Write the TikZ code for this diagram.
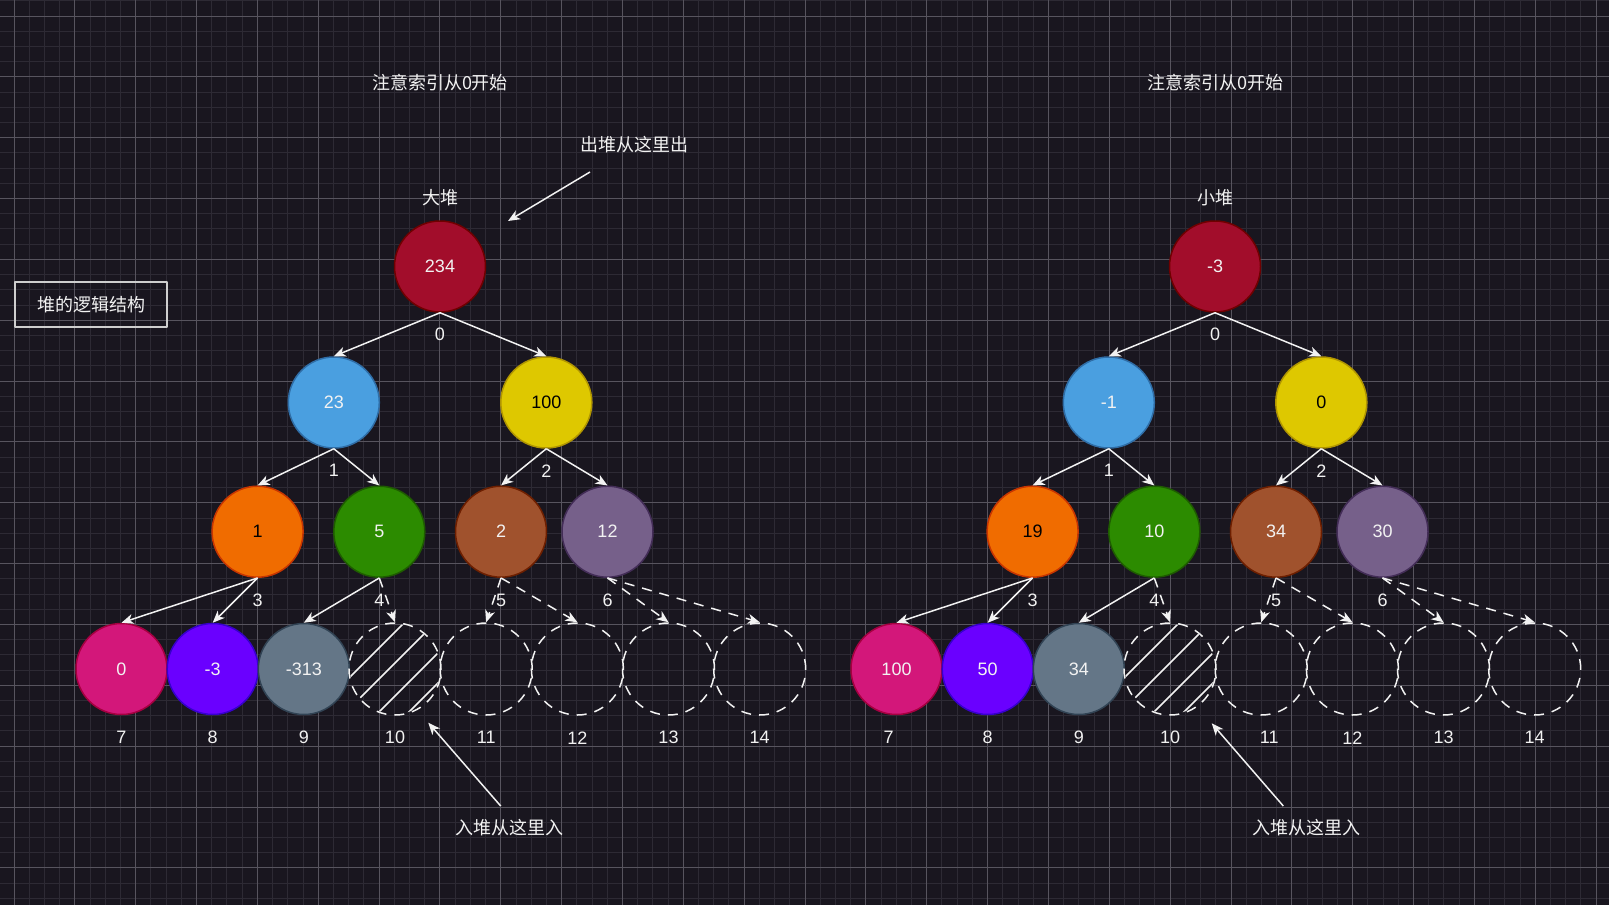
\documentclass[tikz,border=0pt]{standalone}
\usepackage{fontspec}
\setmainfont{Liberation Sans}
\newfontfamily\cjk{Noto Sans CJK SC}
\usetikzlibrary{arrows.meta}

\definecolor{bgdark}{HTML}{19161F}
\definecolor{gridmin}{HTML}{2D2A34}
\definecolor{gridmaj}{HTML}{57545E}
\definecolor{txt}{HTML}{F2F2F2}
\definecolor{crimsonF}{HTML}{A20D2B}\definecolor{crimsonD}{HTML}{6F0000}
\definecolor{blueF}{HTML}{4A9FE0}\definecolor{blueD}{HTML}{2F6DA6}
\definecolor{yellowF}{HTML}{DEC800}\definecolor{yellowD}{HTML}{B09500}
\definecolor{orangeF}{HTML}{F06C00}\definecolor{orangeD}{HTML}{C73500}
\definecolor{greenF}{HTML}{2C8B00}\definecolor{greenD}{HTML}{1E5C00}
\definecolor{brownF}{HTML}{A0522D}\definecolor{brownD}{HTML}{6D1F00}
\definecolor{purpleF}{HTML}{76608A}\definecolor{purpleD}{HTML}{432D57}
\definecolor{magentaF}{HTML}{D3177A}\definecolor{magentaD}{HTML}{A50040}
\definecolor{violetF}{HTML}{6A00FF}\definecolor{violetD}{HTML}{3700CC}
\definecolor{slateF}{HTML}{647687}\definecolor{slateD}{HTML}{314354}

\newcommand\lbl{\fontsize{18}{21}\selectfont}

\tikzset{
  hnode/.style={circle, minimum size=91pt, inner sep=0pt, line width=1.5pt, text=txt, font=\lbl},
  slot/.style={circle, minimum size=92pt, inner sep=0pt, draw=txt, line width=1.5pt, dash pattern=on 10pt off 8pt},
  link/.style={draw=txt, line width=1.5pt, -{Stealth[length=12pt,width=10pt,inset=3.5pt]}},
  dlink/.style={link, dash pattern=on 10pt off 8pt},
  idx/.style={text=txt, font=\lbl, inner sep=0pt},
  cjklbl/.style={text=txt, font=\cjk\lbl, inner sep=0pt},
  hatch/.style={draw=txt, line width=1.5pt},
}

\begin{document}
\begin{tikzpicture}[x=1pt, y=-1pt, line join=round]
  \useasboundingbox (0,0) rectangle (1609,905);
  \fill[bgdark] (0,0) rectangle (1609,905);
  % grid
  \foreach \k in {-1,...,105} \draw[gridmin, line width=1pt] ({14+15.2125*\k},0) -- ({14+15.2125*\k},905);
  \foreach \k in {-1,...,58} \draw[gridmin, line width=1pt] (0,{16+15.2125*\k}) -- (1609,{16+15.2125*\k});
  \foreach \k in {0,...,26} \draw[gridmaj, line width=1pt] ({14+60.85*\k},0) -- ({14+60.85*\k},905);
  \foreach \k in {0,...,14} \draw[gridmaj, line width=1pt] (0,{16+60.85*\k}) -- (1609,{16+60.85*\k});

  % side box
  \node[draw=txt!85!black, line width=1.5pt, minimum width=152pt, minimum height=45pt, cjklbl] (logic) at (91,304.5) {堆的逻辑结构};

  % ---- big heap
  \node[cjklbl] (notea) at (440,83) {注意索引从0开始};
  \node[cjklbl] (namea) at (440,198) {大堆};
  \node[cjklbl] (popa) at (634,145) {出堆从这里出};
  \node[hnode, fill=crimsonF, draw=crimsonD] (a0) at (440,266.5) {234};
  \node[hnode, fill=blueF, draw=blueD] (a1) at (333.8,402.5) {23};
  \node[hnode, fill=yellowF, draw=yellowD, text=black] (a2) at (546.3,402.5) {100};
  \node[hnode, fill=orangeF, draw=orangeD, text=black] (a3) at (257.6,531.7) {1};
  \node[hnode, fill=greenF, draw=greenD] (a4) at (379.3,531.7) {5};
  \node[hnode, fill=brownF, draw=brownD] (a5) at (501,531.7) {2};
  \node[hnode, fill=purpleF, draw=purpleD] (a6) at (607.5,531.7) {12};
  \node[hnode, fill=magentaF, draw=magentaD] (a7) at (121.5,669) {0};
  \node[hnode, fill=violetF, draw=violetD] (a8) at (212.7,669) {-3};
  \node[hnode, fill=slateF, draw=slateD] (a9) at (303.8,669) {-313};
  \node[slot] (a10) at (395,669) {};
  \node[slot] (a11) at (486.2,669) {};
  \node[slot] (a12) at (577.4,669) {};
  \node[slot] (a13) at (668.5,669) {};
  \node[slot] (a14) at (759.7,669) {};
  \begin{scope}
    \clip (a10.center) circle[radius=45pt];
    \foreach \o in {-37,-6,27,57}
      \draw[hatch] ([shift={({\o/2-70},{\o/2+70})}]a10.center) -- ([shift={({\o/2+70},{\o/2-70})}]a10.center);
  \end{scope}

  \draw[link] (a0.south) -- (a1.north);
  \draw[link] (a0.south) -- (a2.north);
  \draw[link] (a1.south) -- (a3.north);
  \draw[link] (a1.south) -- (a4.north);
  \draw[link] (a2.south) -- (a5.north);
  \draw[link] (a2.south) -- (a6.north);
  \draw[link] (a3.south) -- (a7.north);
  \draw[link] (a3.south) -- (a8.north);
  \draw[link] (a4.south) -- (a9.north);
  \draw[dlink] (a4.south) -- (a10.north);
  \draw[dlink] (a5.south) -- (a11.north);
  \draw[dlink] (a5.south) -- (a12.north);
  \draw[dlink] (a6.south) -- (a13.north);
  \draw[dlink] (a6.south) -- (a14.north);

  \node[idx] (ia0) at ([yshift=-22pt]a0.south) {0};
  \node[idx] (ia1) at ([yshift=-22pt]a1.south) {1};
  \node[idx] (ia2) at ([yshift=-22pt]a2.south) {2};
  \node[idx] (ia3) at ([yshift=-22pt]a3.south) {3};
  \node[idx] (ia4) at ([yshift=-22pt]a4.south) {4};
  \node[idx] (ia5) at ([yshift=-22pt]a5.south) {5};
  \node[idx] (ia6) at ([yshift=-22pt]a6.south) {6};
  \node[idx] (ia7) at ([yshift=-22pt]a7.south) {7};
  \node[idx] (ia8) at ([yshift=-22pt]a8.south) {8};
  \node[idx] (ia9) at ([yshift=-22pt]a9.south) {9};
  \node[idx] (ia10) at ([yshift=-22pt]a10.south) {10};
  \node[idx] (ia11) at ([yshift=-22pt]a11.south) {11};
  \node[idx] (ia12) at ([yshift=-22pt]a12.south) {12};
  \node[idx] (ia13) at ([yshift=-22pt]a13.south) {13};
  \node[idx] (ia14) at ([yshift=-22pt]a14.south) {14};

  \coordinate (popatail) at (590,172);
  \coordinate (popatip) at (508,221);
  \draw[link] (popatail) -- (popatip);
  \node[cjklbl] (pusha) at (509,828) {入堆从这里入};
  \coordinate (pushatail) at (500.7,806);
  \coordinate (pushatip) at (428.3,722.7);
  \draw[link] (pushatail) -- (pushatip);

  % ---- small heap
  \node[cjklbl] (noteb) at (1215,83) {注意索引从0开始};
  \node[cjklbl] (nameb) at (1215,198) {小堆};
  \node[hnode, fill=crimsonF, draw=crimsonD] (b0) at (1215,266.5) {-3};
  \node[hnode, fill=blueF, draw=blueD] (b1) at (1108.8,402.5) {-1};
  \node[hnode, fill=yellowF, draw=yellowD, text=black] (b2) at (1321.3,402.5) {0};
  \node[hnode, fill=orangeF, draw=orangeD, text=black] (b3) at (1032.6,531.7) {19};
  \node[hnode, fill=greenF, draw=greenD] (b4) at (1154.3,531.7) {10};
  \node[hnode, fill=brownF, draw=brownD] (b5) at (1276,531.7) {34};
  \node[hnode, fill=purpleF, draw=purpleD] (b6) at (1382.5,531.7) {30};
  \node[hnode, fill=magentaF, draw=magentaD] (b7) at (896.5,669) {100};
  \node[hnode, fill=violetF, draw=violetD] (b8) at (987.7,669) {50};
  \node[hnode, fill=slateF, draw=slateD] (b9) at (1078.8,669) {34};
  \node[slot] (b10) at (1170,669) {};
  \node[slot] (b11) at (1261.2,669) {};
  \node[slot] (b12) at (1352.4,669) {};
  \node[slot] (b13) at (1443.5,669) {};
  \node[slot] (b14) at (1534.7,669) {};
  \begin{scope}
    \clip (b10.center) circle[radius=45pt];
    \foreach \o in {-37,-6,27,57}
      \draw[hatch] ([shift={({\o/2-70},{\o/2+70})}]b10.center) -- ([shift={({\o/2+70},{\o/2-70})}]b10.center);
  \end{scope}

  \draw[link] (b0.south) -- (b1.north);
  \draw[link] (b0.south) -- (b2.north);
  \draw[link] (b1.south) -- (b3.north);
  \draw[link] (b1.south) -- (b4.north);
  \draw[link] (b2.south) -- (b5.north);
  \draw[link] (b2.south) -- (b6.north);
  \draw[link] (b3.south) -- (b7.north);
  \draw[link] (b3.south) -- (b8.north);
  \draw[link] (b4.south) -- (b9.north);
  \draw[dlink] (b4.south) -- (b10.north);
  \draw[dlink] (b5.south) -- (b11.north);
  \draw[dlink] (b5.south) -- (b12.north);
  \draw[dlink] (b6.south) -- (b13.north);
  \draw[dlink] (b6.south) -- (b14.north);

  \node[idx] (ib0) at ([yshift=-22pt]b0.south) {0};
  \node[idx] (ib1) at ([yshift=-22pt]b1.south) {1};
  \node[idx] (ib2) at ([yshift=-22pt]b2.south) {2};
  \node[idx] (ib3) at ([yshift=-22pt]b3.south) {3};
  \node[idx] (ib4) at ([yshift=-22pt]b4.south) {4};
  \node[idx] (ib5) at ([yshift=-22pt]b5.south) {5};
  \node[idx] (ib6) at ([yshift=-22pt]b6.south) {6};
  \node[idx] (ib7) at ([xshift=-8pt, yshift=-22pt]b7.south) {7};
  \node[idx] (ib8) at ([yshift=-22pt]b8.south) {8};
  \node[idx] (ib9) at ([yshift=-22pt]b9.south) {9};
  \node[idx] (ib10) at ([yshift=-22pt]b10.south) {10};
  \node[idx] (ib11) at ([xshift=8pt, yshift=-22pt]b11.south) {11};
  \node[idx] (ib12) at ([yshift=-22pt]b12.south) {12};
  \node[idx] (ib13) at ([yshift=-22pt]b13.south) {13};
  \node[idx] (ib14) at ([yshift=-22pt]b14.south) {14};

  \node[cjklbl] (pushb) at (1306,828) {入堆从这里入};
  \coordinate (pushbtail) at (1283.3,806);
  \coordinate (pushbtip) at (1211.7,723.3);
  \draw[link] (pushbtail) -- (pushbtip);
\end{tikzpicture}
\end{document}
